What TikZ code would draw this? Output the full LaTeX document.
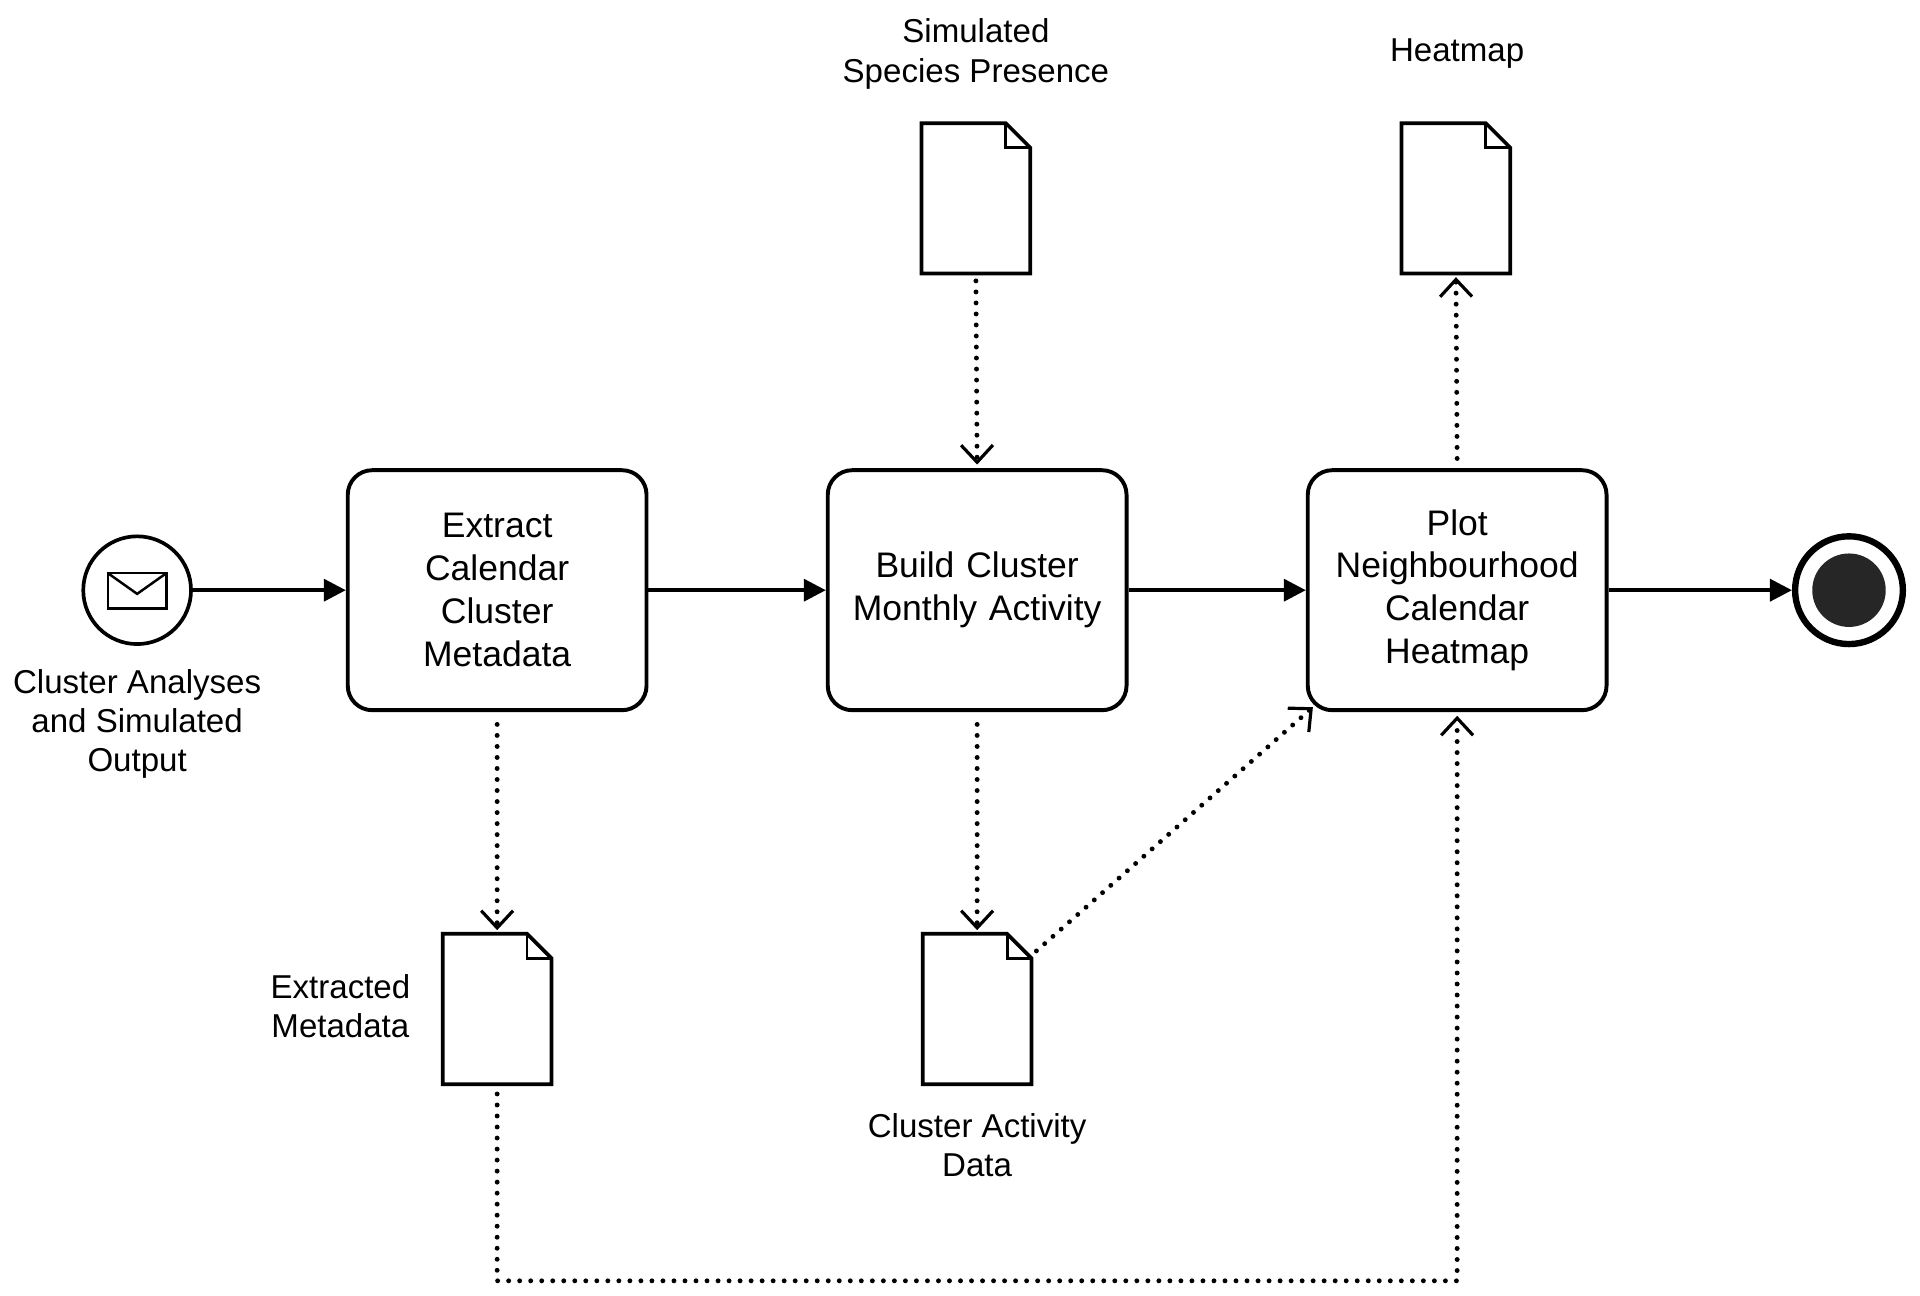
\documentclass[tikz,border=0pt]{standalone}
\usepackage{fontspec}
\setmainfont{Liberation Sans}
\usetikzlibrary{arrows.meta,positioning}
\tikzset{
  task/.style={draw,line width=1.6pt,rounded corners=10pt,minimum width=122pt,minimum height=98pt,align=center,text width=108pt,font=\fontsize{14.5}{17.5}\selectfont},
  doc/.style={minimum width=44pt,minimum height=61pt,inner sep=0pt},
  flow/.style={line width=1.5pt,-{Triangle[length=9pt,width=9pt]}},
  assoc/.style={line width=2pt,line cap=round,dash pattern=on 0pt off 4.5pt,-{Straight Barb[length=7pt,width=13pt,line width=1.3pt,sep]}},
  lbl/.style={align=center,font=\fontsize{13.5}{16}\selectfont}
}
\newcommand{\docbox}[1]{%
  \draw[line width=1.5pt,line join=miter] (#1.south west) -- (#1.north west) -- ([xshift=-10pt]#1.north east)
    -- ([yshift=-10pt]#1.north east) -- (#1.south east) -- cycle;
  \draw[line width=1.2pt] ([xshift=-10pt]#1.north east) -- ([xshift=-10pt,yshift=-10pt]#1.north east) -- ([yshift=-10pt]#1.north east);}
\begin{document}
\begin{tikzpicture}[x=0.5pt,y=-0.5pt]
  \useasboundingbox (0,0) rectangle (1568,1058);
  %% events
  \node[circle,draw,line width=1.5pt,minimum size=44pt] (start) at (112,482) {};
  \draw[line width=1pt] (88,468) rectangle (136,497);
  \draw[line width=1pt] (88,468) -- (112,485) -- (136,468);
  \node[circle,draw,line width=2.6pt,minimum size=44pt] (end) at (1510,482) {};
  \fill[black!85] (end) circle (15pt);
  %% tasks
  \node[task] (extract) at (406,482) {Extract\\Calendar\\Cluster\\Metadata};
  \node[task] (build) at (798,482) {Build Cluster\\Monthly Activity};
  \node[task] (plot) at (1190,482) {Plot\\Neighbourhood\\Calendar\\Heatmap};
  %% documents
  \node[doc] (species) at (797,162) {};
  \node[doc] (heat) at (1189,162) {};
  \node[doc] (meta) at (406,824) {};
  \node[doc] (activity) at (798,824) {};
  \docbox{species} \docbox{heat} \docbox{meta} \docbox{activity}
  %% labels
  \node[lbl] at (797,44) {Simulated\\Species Presence};
  \node[lbl] at (1190,44) {Heatmap};
  \node[lbl] at (278,822) {Extracted\\Metadata};
  \node[lbl] at (798,935) {Cluster Activity\\Data};
  \node[lbl] at (112,591) {Cluster Analyses\\and Simulated\\Output};
  %% sequence flow
  \draw[flow] (start) -- (extract);
  \draw[flow] (extract) -- (build);
  \draw[flow] (build) -- (plot);
  \draw[flow] (plot) -- (end);
  %% data associations
  \draw[assoc] ([yshift=-5pt]extract.south) -- (meta.north);
  \draw[assoc] ([yshift=-5pt]build.south) -- (activity.north);
  \draw[assoc] ([yshift=-3pt]species.south) -- (build.north);
  \draw[assoc] ([yshift=4pt]plot.north) -- (heat.south);
  \draw[assoc] ([xshift=2pt,yshift=-7pt]activity.north east) -- ([xshift=4pt,yshift=3pt]plot.south west);
  \draw[assoc] ([yshift=-4pt]meta.south) -- (406,1046) -- (1190,1046) -- (plot.south);
\end{tikzpicture}
\end{document}
